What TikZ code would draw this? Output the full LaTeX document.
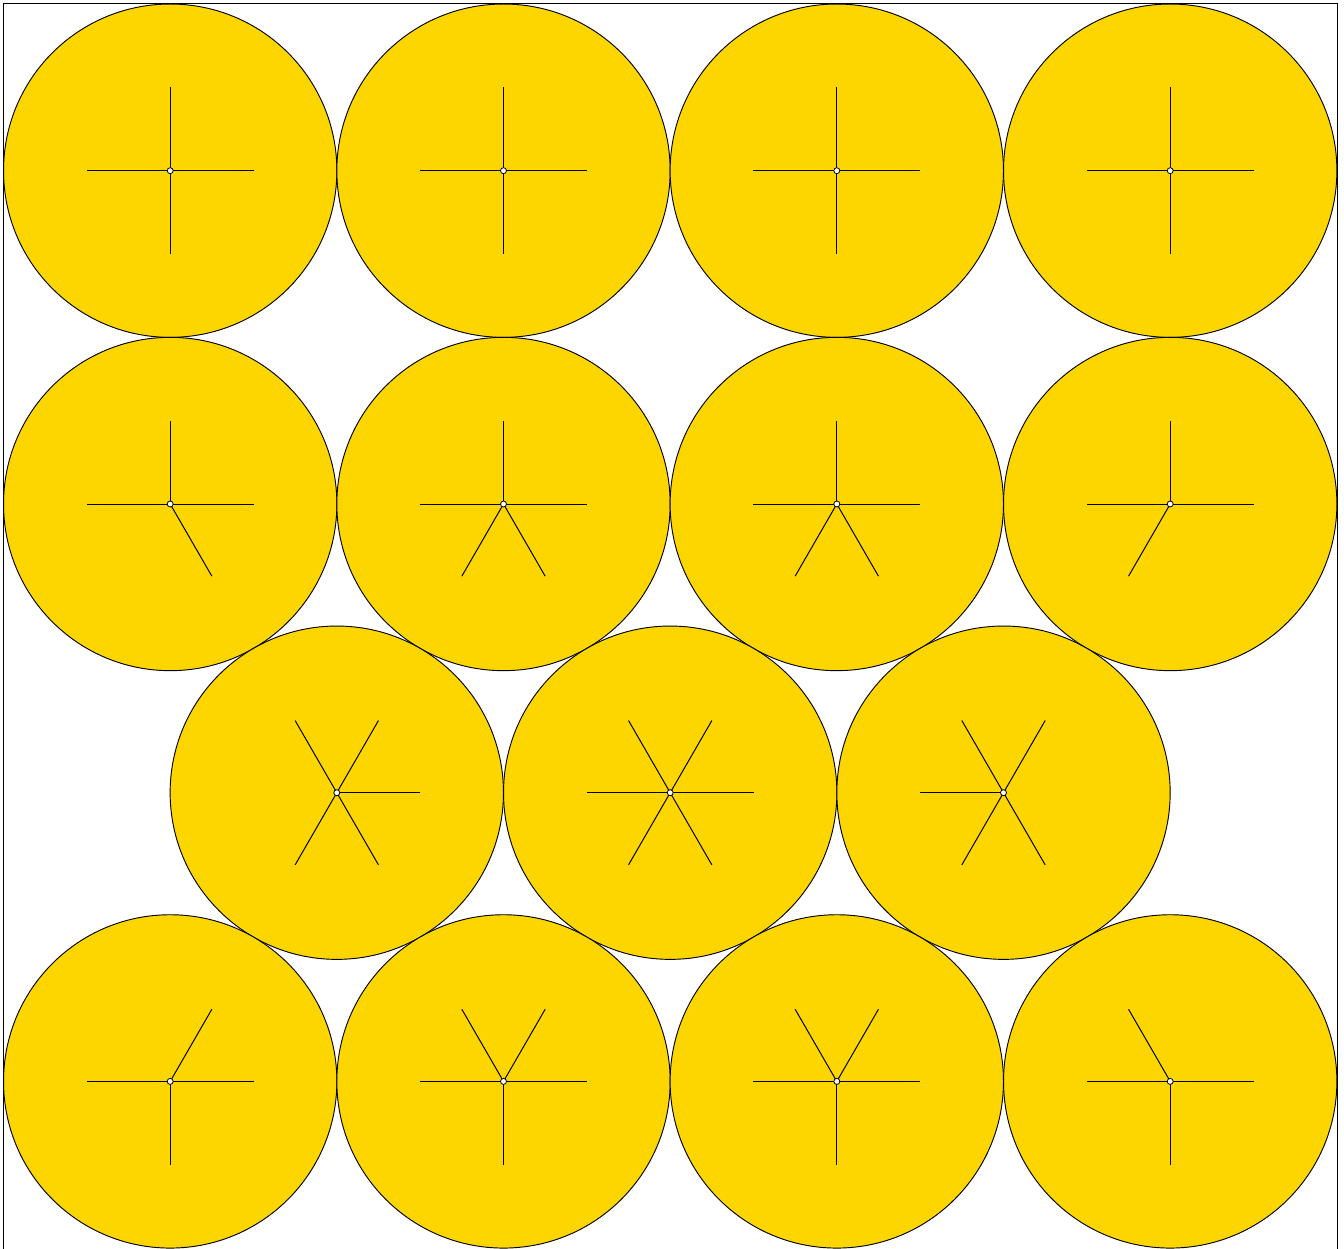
\documentclass[tikz,border=0pt]{standalone}
\definecolor{discgold}{RGB}{253,214,0}
\newcommand\mydisc[4]{%
  \node[disc] (#1) at (#2,#3) {};
  \foreach \a in {#4} {\draw[spoke] (#1.center) -- ++(\a:62.5pt);}
  \node[hub] (#1h) at (#1.center) {};
}
\begin{document}
\begin{tikzpicture}[x=0.75pt,y=-0.75pt,
  disc/.style={circle,draw=black,fill=discgold,line width=0.7pt,minimum size=250pt,inner sep=0pt,outer sep=0pt},
  spoke/.style={draw=black,line width=0.75pt},
  hub/.style={circle,draw=black,fill=white,line width=0.6pt,minimum size=4.5pt,inner sep=0pt}]
\useasboundingbox (0,0) rectangle (1344,1248);
\draw[line width=0.75pt] (3,4) rectangle (1337,1262);
% row 1
\mydisc{a1}{170.2}{170.7}{0,90,180,270}
\mydisc{a2}{503.5}{170.7}{0,90,180,270}
\mydisc{a3}{836.8}{170.7}{0,90,180,270}
\mydisc{a4}{1170.2}{170.7}{0,90,180,270}
% row 2
\mydisc{b1}{170.2}{504}{0,90,180,300}
\mydisc{b2}{503.5}{504}{0,90,180,240,300}
\mydisc{b3}{836.8}{504}{0,90,180,240,300}
\mydisc{b4}{1170.2}{504}{0,90,180,240}
% row 3
\mydisc{c1}{336.8}{792.7}{0,60,120,240,300}
\mydisc{c2}{670.2}{792.7}{0,60,120,180,240,300}
\mydisc{c3}{1003.5}{792.7}{60,120,180,240,300}
% row 4
\mydisc{d1}{170.2}{1081.4}{0,60,180,270}
\mydisc{d2}{503.5}{1081.4}{0,60,120,180,270}
\mydisc{d3}{836.8}{1081.4}{0,60,120,180,270}
\mydisc{d4}{1170.2}{1081.4}{0,120,180,270}
\end{tikzpicture}
\end{document}
